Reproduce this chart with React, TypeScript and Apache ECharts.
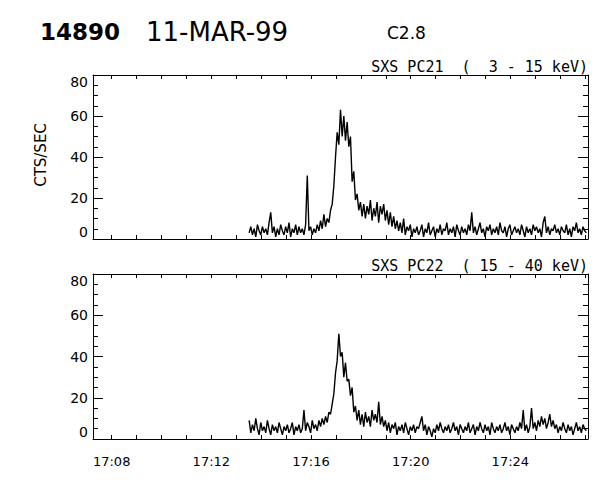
import React, { useEffect, useRef } from "react";
import * as echarts from "echarts";

// Time in seconds after 17:00:00, 4-second samples starting at 17:13:31
const TIME_START = 811;
const TIME_STEP = 4;
const X_MIN = 435; // 17:07:15
const X_MAX = 1627; // 17:27:07

const PC21_COUNTS = [
  3, 6, 2, 5, 1, 7, 4, 2, 6, 3,
  5, 2, 8, 13, 3, 6, 1, 5, 2, 7,
  4, 2, 6, 3, 8, 1, 5, 3, 7, 2,
  6, 3, 5, 2, 7, 31, 4, 6, 2, 5,
  3, 7, 4, 9, 5, 12, 6, 10, 8, 14,
  17, 26, 40, 52, 46, 63, 50, 60, 48, 57,
  45, 50, 28, 33, 19, 22, 14, 18, 11, 17,
  10, 16, 12, 19, 9, 15, 11, 18, 8, 16,
  12, 17, 9, 14, 7, 13, 6, 11, 5, 9,
  4, 8, 3, 10, 2, 6, 4, 7, 1, 5,
  3, 6, 2, 4, 7, 1, 5, 3, 8, 2,
  4, 6, 1, 5, 3, 7, 2, 5, 4, 8,
  2, 5, 3, 6, 1, 7, 4, 2, 6, 3,
  5, 2, 7, 4, 13, 3, 6, 2, 5, 8,
  3, 5, 1, 6, 4, 7, 2, 5, 3, 6,
  2, 8, 4, 3, 6, 1, 5, 7, 2, 4,
  6, 3, 5, 2, 7, 4, 1, 6, 3, 5,
  2, 7, 4, 6, 3, 5, 1, 8, 11, 3,
  6, 2, 5, 4, 7, 3, 5, 2, 6, 4,
  3, 7, 2, 5, 1, 6, 4, 8, 3, 5,
  2, 6, 4, 3,
];

const PC22_COUNTS = [
  9, 3, 7, 4, 10, 5, 2, 8, 4, 6,
  3, 9, 5, 2, 7, 4, 6, 3, 8, 5,
  2, 6, 4, 7, 3, 5, 8, 2, 6, 4,
  7, 3, 5, 14, 4, 8, 6, 3, 9, 5,
  7, 4, 9, 6, 10, 7, 11, 8, 13, 12,
  17, 22, 32, 38, 51, 40, 42, 30, 37, 28,
  29, 21, 25, 13, 16, 9, 14, 7, 12, 6,
  13, 8, 11, 6, 14, 9, 12, 8, 18, 7,
  11, 6, 9, 4, 8, 3, 7, 5, 8, 2,
  6, 4, 7, 3, 8, 5, 2, 6, 4, 7,
  3, 6, 5, 8, 11, 4, 7, 2, 6, 4,
  1, 5, 3, 7, 4, 8, 5, 3, 6, 4,
  7, 3, 5, 8, 4, 6, 2, 7, 5, 3,
  6, 4, 8, 3, 5, 7, 2, 6, 4, 8,
  5, 3, 7, 4, 6, 2, 8, 5, 3, 6,
  4, 7, 3, 5, 8, 4, 6, 2, 7, 5,
  3, 6, 4, 8, 5, 14, 4, 7, 3, 6,
  15, 5, 8, 4, 9, 6, 11, 7, 10, 5,
  8, 12, 6, 9, 5, 7, 3, 6, 4, 8,
  5, 3, 7, 4, 6, 2, 5, 8, 4, 6,
  3, 7, 5, 4,
];

const TICK_SECONDS = [
  480, 540, 600, 660, 720, 780, 840, 900, 960, 1020, 1080, 1140, 1200, 1260,
  1320, 1380, 1440, 1500, 1560, 1620,
];
const LABEL_SECONDS = [480, 720, 960, 1200, 1440];
const LABEL_TEXTS = ["17:08", "17:12", "17:16", "17:20", "17:24"];

const TITLE_ID = "14890";
const TITLE_DATE = "11-MAR-99";
const TITLE_CLASS = "C2.8";
const PANEL_TITLES = ["SXS PC21  (  3 - 15 keV)", "SXS PC22  ( 15 - 40 keV)"];
const Y_NAME = "CTS/SEC";

const FONT = "DejaVu Sans";
const MONO = "DejaVu Sans Mono";

function toPairs(values: number[]) {
  return values.map((v, i) => [TIME_START + i * TIME_STEP, v]);
}

function xAxisDef(gridIndex: number, position: "top" | "bottom", labels: boolean) {
  return {
    type: "value",
    gridIndex,
    position,
    min: X_MIN,
    max: X_MAX,
    axisLine: { show: true, onZero: false, lineStyle: { color: "#000", width: 1 } },
    axisTick: {
      show: true,
      inside: true,
      length: 4,
      customValues: TICK_SECONDS,
      lineStyle: { color: "#000", width: 1 },
    },
    axisLabel: labels
      ? {
          show: true,
          customValues: LABEL_SECONDS,
          formatter: (v: number) => {
            const idx = LABEL_SECONDS.indexOf(Math.round(v));
            return idx >= 0 ? LABEL_TEXTS[idx] : "";
          },
          color: "#000",
          fontFamily: FONT,
          fontSize: 13,
          margin: 16,
        }
      : { show: false },
    splitLine: { show: false },
  };
}

function yAxisDef(gridIndex: number, position: "left" | "right", labels: boolean) {
  return {
    type: "value",
    gridIndex,
    position,
    min: 0,
    max: 80,
    interval: 20,
    axisLine: { show: true, lineStyle: { color: "#000", width: 1 } },
    axisTick: { show: true, inside: true, length: 10, lineStyle: { color: "#000", width: 1 } },
    minorTick: { show: true, splitNumber: 4, length: 5, lineStyle: { color: "#000", width: 1 } },
    axisLabel: labels
      ? {
          show: true,
          color: "#000",
          fontFamily: FONT,
          fontSize: 14,
          margin: 5,
          verticalAlignMinLabel: "bottom",
          verticalAlignMaxLabel: "top",
        }
      : { show: false },
    splitLine: { show: false },
    minorSplitLine: { show: false },
  };
}

export default function App() {
  const ref = useRef<HTMLDivElement>(null);

  useEffect(() => {
    if (!ref.current) return;
    const chart = echarts.init(ref.current, null, { renderer: "svg" });
    chart.setOption({
      animation: false,
      backgroundColor: "#fff",
      grid: [
        { left: 93, top: 75, width: 495, height: 164 },
        { left: 93, top: 274, width: 495, height: 165 },
      ],
      xAxis: [
        xAxisDef(0, "bottom", false),
        xAxisDef(0, "top", false),
        xAxisDef(1, "bottom", true),
        xAxisDef(1, "top", false),
      ],
      yAxis: [
        yAxisDef(0, "left", true),
        yAxisDef(0, "right", false),
        yAxisDef(1, "left", true),
        yAxisDef(1, "right", false),
      ],
      series: [
        {
          type: "line",
          xAxisIndex: 0,
          yAxisIndex: 0,
          data: toPairs(PC21_COUNTS),
          showSymbol: false,
          symbol: "none",
          lineStyle: { color: "#000", width: 1.4 },
          silent: true,
        },
        {
          type: "line",
          xAxisIndex: 2,
          yAxisIndex: 2,
          data: toPairs(PC22_COUNTS),
          showSymbol: false,
          symbol: "none",
          lineStyle: { color: "#000", width: 1.4 },
          silent: true,
        },
      ],
      graphic: [
        {
          type: "text",
          x: 40,
          y: 32,
          style: {
            text: TITLE_ID,
            fontFamily: FONT,
            fontSize: 23,
            fontWeight: "bold",
            fill: "#000",
            verticalAlign: "middle",
          },
        },
        {
          type: "text",
          x: 146,
          y: 32,
          style: {
            text: TITLE_DATE,
            fontFamily: FONT,
            fontSize: 26,
            fill: "#000",
            verticalAlign: "middle",
          },
        },
        {
          type: "text",
          x: 387,
          y: 33,
          style: {
            text: TITLE_CLASS,
            fontFamily: FONT,
            fontSize: 17,
            fill: "#000",
            verticalAlign: "middle",
          },
        },
        {
          type: "text",
          x: 588,
          y: 74,
          style: {
            text: PANEL_TITLES[0],
            fontFamily: MONO,
            fontSize: 15,
            fill: "#000",
            align: "right",
            verticalAlign: "bottom",
          },
        },
        {
          type: "text",
          x: 588,
          y: 273,
          style: {
            text: PANEL_TITLES[1],
            fontFamily: MONO,
            fontSize: 15,
            fill: "#000",
            align: "right",
            verticalAlign: "bottom",
          },
        },
        {
          type: "text",
          x: 41,
          y: 155,
          rotation: Math.PI / 2,
          style: {
            text: Y_NAME,
            fontFamily: FONT,
            fontSize: 15,
            fill: "#000",
            align: "center",
            verticalAlign: "middle",
          },
        },
      ],
    });
    return () => chart.dispose();
  }, []);

  return (
    <div
      ref={ref}
      style={{ position: "fixed", left: 0, top: 0, width: 600, height: 480, background: "#fff" }}
    />
  );
}
